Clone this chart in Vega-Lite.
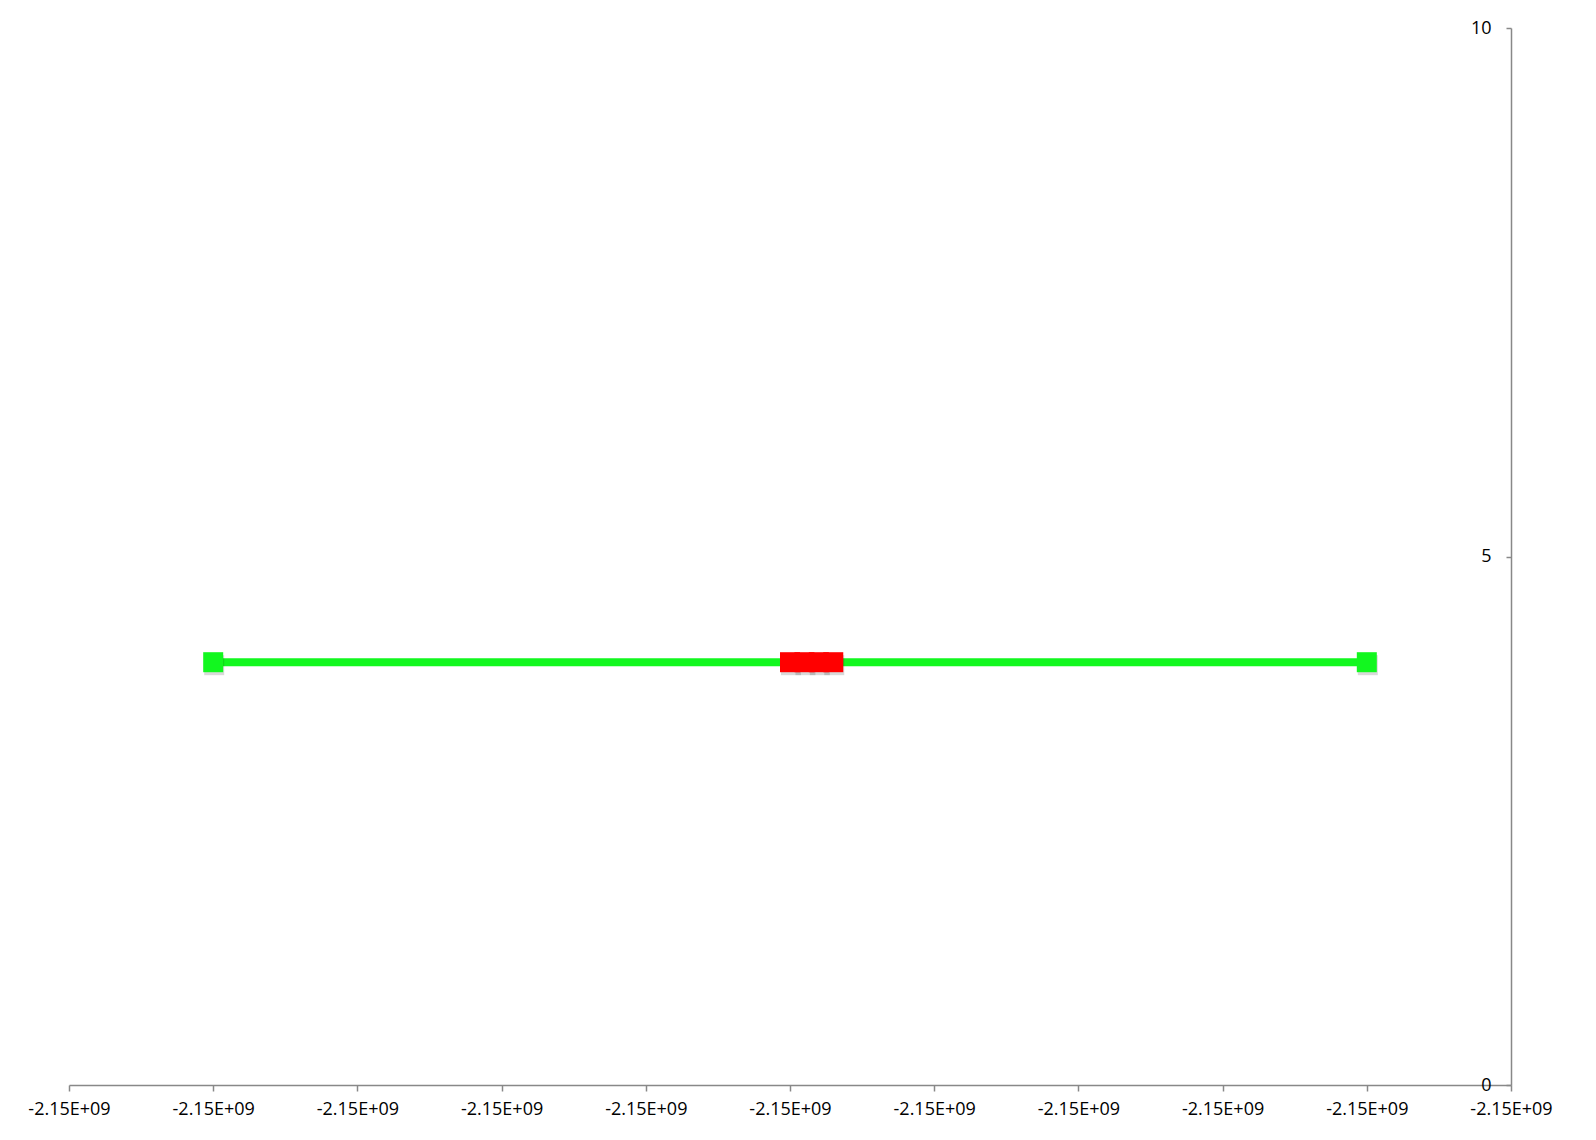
{
  "$schema": "https://vega.github.io/schema/vega-lite/v6.json",
  "width": 1442,
  "height": 1057,
  "autosize": {"type": "none"},
  "padding": {"left": 69, "top": 28, "right": 85, "bottom": 55},
  "background": "white",
  "config": {
    "view": {"stroke": null},
    "axis": {"labelFont": "Open Sans", "labelFontSize": 18, "labelColor": "#000", "domainColor": "#888", "tickColor": "#888", "grid": false, "title": null, "labelFlush": false, "labelOverlap": false}
  },
  "data": {
    "values": [
      {"series": "green", "x": 1, "y": 4},
      {"series": "green", "x": 9, "y": 4},
      {"series": "red", "x": 5.0, "y": 4},
      {"series": "red", "x": 5.1, "y": 4},
      {"series": "red", "x": 5.2, "y": 4},
      {"series": "red", "x": 5.3, "y": 4}
    ]
  },
  "encoding": {
    "x": {"field": "x", "type": "quantitative", "scale": {"domain": [0, 10], "nice": false, "zero": false},
      "axis": {"values": [0,1,2,3,4,5,6,7,8,9,10], "labelExpr": "'-2.15E+09'", "tickSize": 6, "labelPadding": 9, "domainWidth": 1.5, "tickWidth": 1.5}},
    "y": {"field": "y", "type": "quantitative", "scale": {"domain": [0, 10], "nice": false},
      "axis": {"orient": "left", "offset": -1442, "values": [0, 5, 10], "tickSize": 5, "labelPadding": 15, "domainWidth": 1.5, "tickWidth": 1.5}}
  },
  "layer": [
    {
      "transform": [{"filter": "datum.series === 'green'"}],
      "mark": {"type": "line", "color": "#12f71f", "strokeWidth": 8}
    },
    {
      "mark": {"type": "square", "size": 400, "filled": true, "color": "#000", "opacity": 0.15, "xOffset": 1, "yOffset": 3}
    },
    {
      "mark": {"type": "square", "size": 400, "filled": true, "opacity": 1},
      "encoding": {
        "color": {"field": "series", "type": "nominal", "scale": {"domain": ["green", "red"], "range": ["#12f71f", "#ff0000"]}, "legend": null}
      }
    }
  ]
}
